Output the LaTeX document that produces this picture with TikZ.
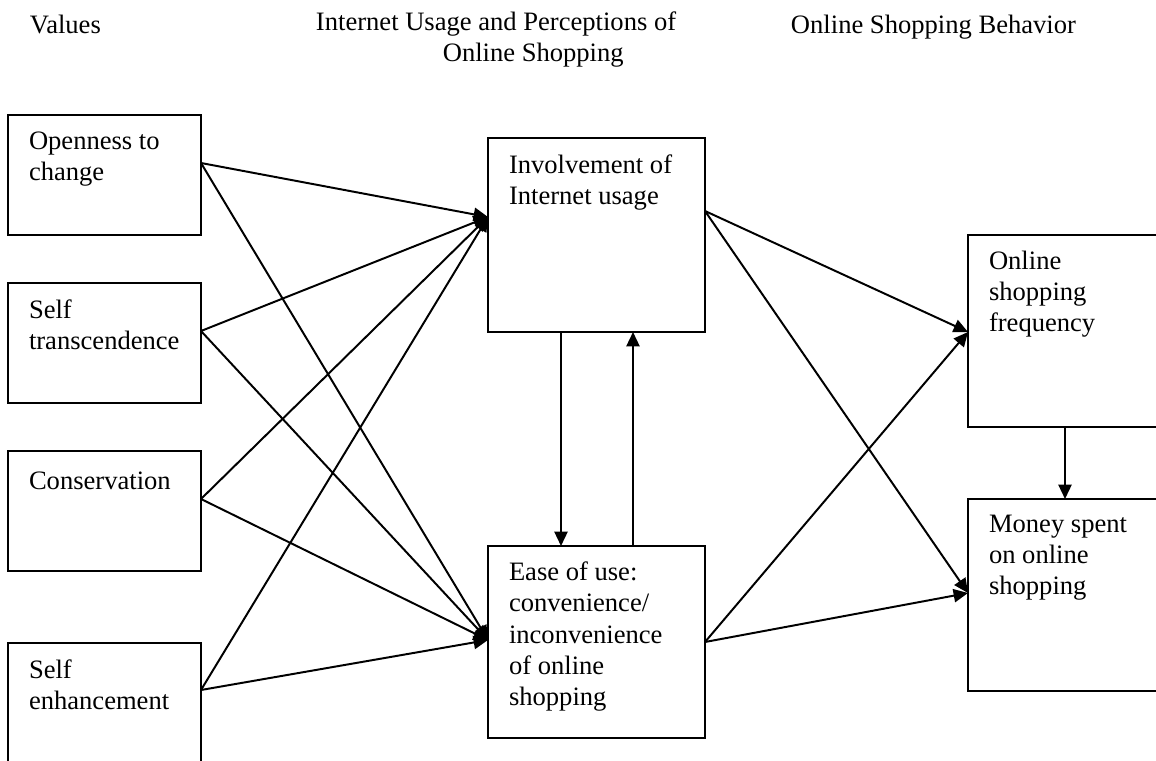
\documentclass[tikz,border=0pt]{standalone}
\usepackage{fontspec}
\setmainfont{Liberation Serif}
\usetikzlibrary{arrows.meta}
\usetikzlibrary{fit}

\tikzset{
  box/.style={draw, inner sep=0pt},
  boxtext/.style={anchor=north west, align=left, inner sep=0pt,
    execute at begin node=\strut},
  arr/.style={-{Triangle[length=0.36cm, width=0.33cm]}}
}

\begin{document}
\begin{tikzpicture}[x=0.025cm, y=-0.025cm, line width=1.4pt,
  every node/.append style={font=\fontsize{18.9}{22.2}\selectfont}]
\useasboundingbox (0,0) rectangle (1156,761);
\clip (0,0) rectangle (1156,761);

% column headings
\node[boxtext] (hvalues) at (29,11) {Values};
\node[boxtext] (husage) at (315,11) {Internet Usage and Perceptions of\\\hspace*{3.17cm}Online Shopping};
\node[boxtext] (hbehav) at (790,11) {Online Shopping Behavior};

% values
\node[box, fit={(8,115) (201,235)}] (open) {};
\node[boxtext] (open-t) at ([shift={(21,17)}]open.north west) {Openness to\\change};
\node[box, fit={(8,283) (201,403)}] (self) {};
\node[boxtext] (self-t) at ([shift={(21,17)}]self.north west) {Self\\transcendence};
\node[box, fit={(8,451) (201,571)}] (cons) {};
\node[boxtext] (cons-t) at ([shift={(21,17)}]cons.north west) {Conservation};
\node[box, fit={(8,643) (201,820)}] (enh) {};
\node[boxtext] (enh-t) at ([shift={(21,17)}]enh.north west) {Self\\enhancement};

% usage and perceptions
\node[box, fit={(488,138) (705,332)}] (inv) {};
\node[boxtext] (inv-t) at ([shift={(21,17)}]inv.north west) {Involvement of\\Internet usage};
\node[box, fit={(488,546) (705,738)}] (ease) {};
\node[boxtext] (ease-t) at ([shift={(21,16)}]ease.north west) {Ease of use:\\convenience/\\inconvenience\\of online\\shopping};

% behavior
\node[box, fit={(968,235) (1190,427)}] (freq) {};
\node[boxtext] (freq-t) at ([shift={(21,16)}]freq.north west) {Online\\shopping\\frequency};
\node[box, fit={(968,499) (1190,691)}] (money) {};
\node[boxtext] (money-t) at ([shift={(21,16)}]money.north west) {Money spent\\on online\\shopping};

% connector ends
\coordinate (open-o) at (201,163);
\coordinate (self-o) at (201,331);
\coordinate (cons-o) at (201,499);
\coordinate (enh-o) at (201,690);
\coordinate (inv-i) at (488,217);
\coordinate (ease-i) at (488,640);
\coordinate (inv-o) at (705,211);
\coordinate (ease-o) at (705,642);
\coordinate (freq-i) at (968,332);
\coordinate (money-i) at (968,593);
\coordinate (inv-dn) at (561,332);
\coordinate (ease-dn) at (561,546);
\coordinate (ease-up) at (633,546);
\coordinate (inv-up) at (633,332);
\coordinate (freq-dn) at (1065,427);
\coordinate (money-dn) at (1065,499);

\foreach \v in {open-o, self-o, cons-o, enh-o} {
  \draw[arr] (\v) -- (inv-i);
  \draw[arr] (\v) -- (ease-i);
}
\foreach \v in {inv-o, ease-o} {
  \draw[arr] (\v) -- (freq-i);
  \draw[arr] (\v) -- (money-i);
}
\draw[arr] (inv-dn) -- (ease-dn);
\draw[arr] (ease-up) -- (inv-up);
\draw[arr] (freq-dn) -- (money-dn);

\end{tikzpicture}
\end{document}
